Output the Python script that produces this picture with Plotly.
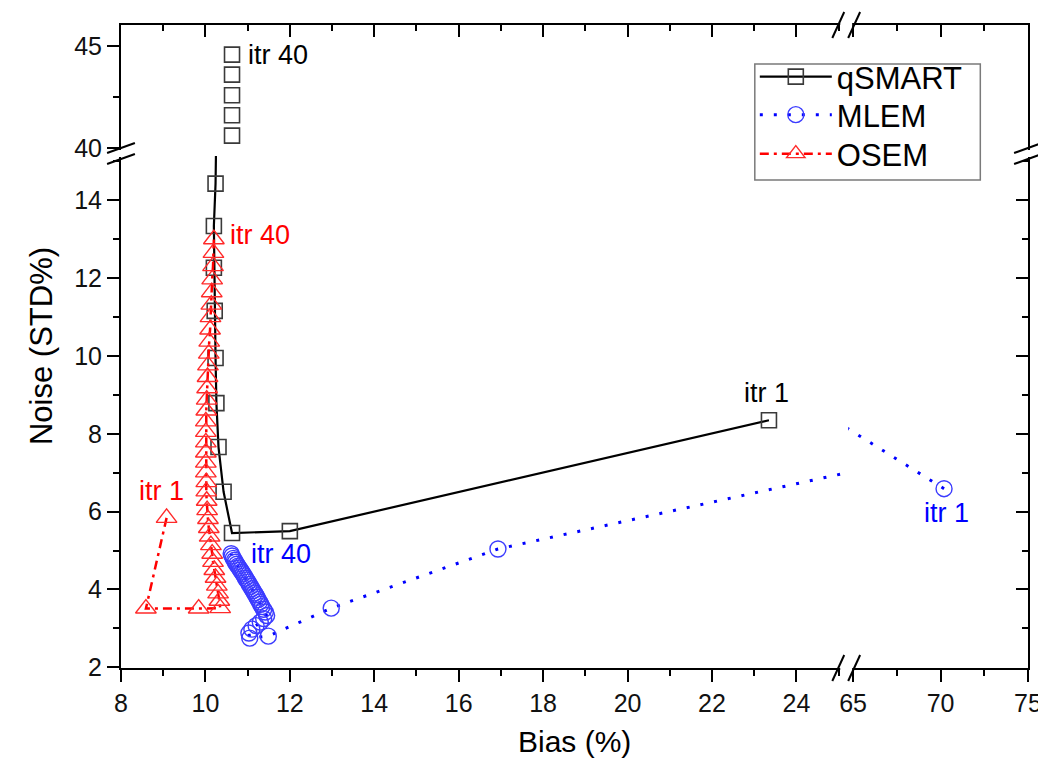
import plotly.graph_objects as go

# ---------------- data ----------------
qsmart_x = [23.35, 12.00, 10.63, 10.43, 10.31, 10.26, 10.24, 10.22, 10.20, 10.20, 10.24,
            10.63, 10.63, 10.63, 10.63, 10.63]
qsmart_y = [8.35, 5.50, 5.45, 6.51, 7.66, 8.79, 9.95, 11.16, 12.27, 13.34, 14.43,
            40.62, 41.62, 42.60, 43.61, 44.59]

mlem_x = [70.20, 48.80, 16.93, 12.98, 11.49, 11.05, 11.03, 11.10, 11.20, 11.30, 11.38, 11.45,
          11.42, 11.38, 11.34, 11.31, 11.28, 11.25, 11.22, 11.19, 11.16, 11.13, 11.10, 11.07,
          11.04, 11.01, 10.98, 10.95, 10.92, 10.89, 10.86, 10.83, 10.80, 10.77, 10.74, 10.71,
          10.69, 10.66, 10.63, 10.61]
mlem_y = [6.59, 12.60, 5.04, 3.52, 2.80, 2.75, 2.88, 2.98, 3.07, 3.16, 3.25, 3.33,
          3.42, 3.49, 3.56, 3.62, 3.68, 3.74, 3.80, 3.86, 3.91, 3.97, 4.02, 4.08,
          4.13, 4.19, 4.24, 4.29, 4.35, 4.40, 4.45, 4.50, 4.55, 4.60, 4.65, 4.70,
          4.75, 4.80, 4.86, 4.92]

osem_x = [9.08, 8.59, 9.84,
          10.35, 10.33, 10.30, 10.27, 10.24, 10.21, 10.18, 10.16, 10.13, 10.10, 10.08, 10.06,
          10.04, 10.03, 10.02, 10.02, 10.01, 10.01, 10.01, 10.01, 10.01, 10.01, 10.02, 10.03,
          10.04, 10.05, 10.06, 10.08, 10.09, 10.11, 10.12, 10.14, 10.15, 10.16, 10.18, 10.19,
          10.20]
osem_y = [5.84, 3.51, 3.51,
          3.52, 3.71, 3.90, 4.10, 4.30, 4.50, 4.71, 4.92, 5.14, 5.36, 5.58, 5.81,
          6.04, 6.28, 6.52, 6.76, 7.01, 7.26, 7.52, 7.78, 8.05, 8.32, 8.60, 8.88,
          9.17, 9.46, 9.76, 10.06, 10.37, 10.68, 11.00, 11.32, 11.64, 11.97, 12.31, 12.65,
          13.00]

series_names = ["qSMART", "MLEM", "OSEM"]
x_left_ticks = [8, 10, 12, 14, 16, 18, 20, 22, 24]
x_right_ticks = [65, 70, 75]
y_low_ticks = [2, 4, 6, 8, 10, 12, 14]
y_up_ticks = [40, 45]

# ---------------- layout geometry ----------------
W, H = 1046, 760
ML, MR, MT, MB = 113, 20, 17, 100
PW, PH = W - ML - MR, H - MT - MB


def pxx(p):
    return (p - ML) / PW


def pxy(p):
    return (H - MB - p) / PH


FONT = "Arial, Liberation Sans, sans-serif"
sq_style = dict(symbol="square-open", size=15, color="#3a3a3a", line=dict(width=1.6))
ci_style = dict(symbol="circle-open", size=16, color="#3c3cff", line=dict(width=1.4))
tr_style = dict(symbol="triangle-up-open", size=18, color="#ff2a2a", line=dict(width=1.4))
q_line = dict(color="black", width=2.2)
m_line = dict(color="#0000ff", width=3, dash="3px,11px")
o_line = dict(color="#ff0000", width=2.5, dash="9px,5px,3px,5px")

fig = go.Figure()

# lower-left panel
fig.add_trace(go.Scatter(x=qsmart_x, y=qsmart_y, mode="lines+markers", name=series_names[0],
                         line=q_line, marker=sq_style, xaxis="x", yaxis="y", legend="legend"))
fig.add_trace(go.Scatter(x=mlem_x, y=mlem_y, mode="lines+markers", name=series_names[1],
                         line=m_line, marker=ci_style, xaxis="x", yaxis="y", legend="legend2"))
fig.add_trace(go.Scatter(x=osem_x, y=osem_y, mode="lines+markers", name=series_names[2],
                         line=o_line, marker=tr_style, xaxis="x", yaxis="y", legend="legend3"))
# lower-right panel
fig.add_trace(go.Scatter(x=mlem_x, y=mlem_y, mode="lines+markers", showlegend=False,
                         line=m_line, marker=ci_style, xaxis="x2", yaxis="y"))
# upper-left panel
fig.add_trace(go.Scatter(x=qsmart_x, y=qsmart_y, mode="markers", showlegend=False,
                         marker=sq_style, xaxis="x", yaxis="y2"))
# invisible carriers so the mirrored (top / right) frame axes get drawn
for xa, ya in (("x3", "y2"), ("x4", "y2"), ("x2", "y3"), ("x2", "y4")):
    fig.add_trace(go.Scatter(x=qsmart_x, y=qsmart_y, mode="markers", showlegend=False,
                             marker=dict(opacity=0), hoverinfo="skip", xaxis=xa, yaxis=ya))

ax_common = dict(showline=True, linecolor="black", linewidth=2, ticks="outside",
                 ticklen=12, tickwidth=2, tickcolor="black", showgrid=False, zeroline=False,
                 tickfont=dict(family=FONT, size=25, color="#111"))
minor_out = dict(ticks="outside", ticklen=6, tickwidth=2, tickcolor="black", showgrid=False)
mirror_common = dict(showline=True, linecolor="black", linewidth=2, ticks="inside",
                     ticklen=12, tickwidth=2, tickcolor="black", showgrid=False,
                     zeroline=False, showticklabels=False)
minor_in = dict(ticks="inside", ticklen=6, tickwidth=2, tickcolor="black", showgrid=False)

xl_dom = [0, pxx(843)]
xr_dom = [pxx(845), 1]
yl_dom = [0, pxy(148)]
yu_dom = [pxy(144), 1]
xl_rng = [8, 25.18]
xr_rng = [64.72, 75]
yl_rng = [1.982, 15.14]
yu_rng = [39.82, 46.04]

leg_common = dict(xanchor="left", yanchor="middle", bgcolor="rgba(0,0,0,0)", borderwidth=0,
                  font=dict(family=FONT, size=31, color="black"), itemwidth=72)

fig.update_layout(
    width=W, height=H, margin=dict(l=ML, r=MR, t=MT, b=MB),
    paper_bgcolor="white", plot_bgcolor="white",
    font=dict(family=FONT, color="black"),
    xaxis=dict(domain=xl_dom, range=xl_rng, anchor="y", tickvals=x_left_ticks,
               minor=dict(dtick=1, tick0=8, **minor_out), **ax_common),
    xaxis2=dict(domain=xr_dom, range=xr_rng, anchor="y", tickvals=x_right_ticks,
                minor=dict(tickvals=[67.5, 72.5], **minor_out), **ax_common),
    yaxis=dict(domain=yl_dom, range=yl_rng, anchor="x", tickvals=y_low_ticks,
               minor=dict(dtick=1, tick0=2, **minor_out), **ax_common),
    yaxis2=dict(domain=yu_dom, range=yu_rng, anchor="x", tickvals=y_up_ticks,
                minor=dict(tickvals=[42.5], **minor_out), **ax_common),
    xaxis3=dict(overlaying="x", side="top", anchor="y2", range=xl_rng, tickvals=x_left_ticks,
                minor=dict(dtick=1, tick0=8, **minor_in), **mirror_common),
    xaxis4=dict(overlaying="x2", side="top", anchor="y2", range=xr_rng, tickvals=x_right_ticks,
                minor=dict(tickvals=[67.5, 72.5], **minor_in), **mirror_common),
    yaxis3=dict(overlaying="y", side="right", anchor="x2", range=yl_rng, tickvals=y_low_ticks,
                minor=dict(dtick=1, tick0=2, **minor_in), **mirror_common),
    yaxis4=dict(overlaying="y2", side="right", anchor="x2", range=yu_rng, tickvals=y_up_ticks,
                minor=dict(tickvals=[42.5], **minor_in), **mirror_common),
    legend=dict(x=pxx(751), y=pxy(69), **leg_common),
    legend2=dict(x=pxx(751), y=pxy(107), **leg_common),
    legend3=dict(x=pxx(751), y=pxy(146), **leg_common),
    showlegend=True,
)

# point labels
lab = dict(family=FONT, size=27)
ann = [
    dict(x=qsmart_x[-1], y=qsmart_y[-1], xref="x", yref="y2", text="itr 40", xanchor="left",
         xshift=14, yshift=0, font=dict(color="black", **lab)),
    dict(x=qsmart_x[0], y=qsmart_y[0], xref="x", yref="y", text="itr 1", xanchor="center",
         xshift=-2, yshift=27, font=dict(color="black", **lab)),
    dict(x=osem_x[-1], y=osem_y[-1], xref="x", yref="y", text="itr 40", xanchor="left",
         xshift=14, yshift=4, font=dict(color="#ff0000", **lab)),
    dict(x=osem_x[0], y=osem_y[0], xref="x", yref="y", text="itr 1", xanchor="center",
         xshift=-5, yshift=27, font=dict(color="#ff0000", **lab)),
    dict(x=mlem_x[-1], y=mlem_y[-1], xref="x", yref="y", text="itr 40", xanchor="left",
         xshift=18, yshift=0, font=dict(color="#0000ff", **lab)),
    dict(x=mlem_x[0], y=mlem_y[0], xref="x2", yref="y", text="itr 1", xanchor="center",
         xshift=2, yshift=-24, font=dict(color="#0000ff", **lab)),
    # axis titles
    dict(x=0.5, y=pxy(733), xref="paper", yref="paper", text="Bias (%)", showarrow=False,
         xanchor="center", yanchor="middle", font=dict(family=FONT, size=30)),
    dict(x=pxx(33), y=0.5, xref="paper", yref="paper", text="Noise (STD%)", showarrow=False,
         xanchor="center", yanchor="middle", textangle=-90, font=dict(family=FONT, size=31)),
]
for a in ann:
    a.setdefault("showarrow", False)
    a.setdefault("yanchor", "middle")
fig.update_layout(annotations=ann)

# legend frame and axis-break marks
shapes = [dict(type="rect", xref="paper", yref="paper", layer="above",
               x0=pxx(751), y0=pxy(56), x1=pxx(978), y1=pxy(172),
               line=dict(color="#7a7a7a", width=1.5))]


def seg(x0, y0, x1, y1):
    shapes.append(dict(type="line", xref="paper", yref="paper", layer="above",
                       x0=pxx(x0), y0=pxy(y0), x1=pxx(x1), y1=pxy(y1),
                       line=dict(color="black", width=2)))


def gap(x0, y0, x1, y1):
    shapes.append(dict(type="rect", xref="paper", yref="paper", layer="above",
                       x0=pxx(x0), y0=pxy(y0), x1=pxx(x1), y1=pxy(y1),
                       fillcolor="white", line=dict(width=0)))


for ybase in (660, 17):
    gap(837, ybase - 5, 849, ybase + 5)
    seg(829, ybase + 13, 841, ybase - 13)
    seg(845, ybase + 13, 857, ybase - 13)
for xbase in (113, 1026):
    gap(xbase - 5, 142, xbase + 5, 149)
    seg(xbase - 14, 145, xbase + 14, 135)
    seg(xbase - 14, 156, xbase + 14, 146)
fig.update_layout(shapes=shapes)

fig.write_html("out.html")
